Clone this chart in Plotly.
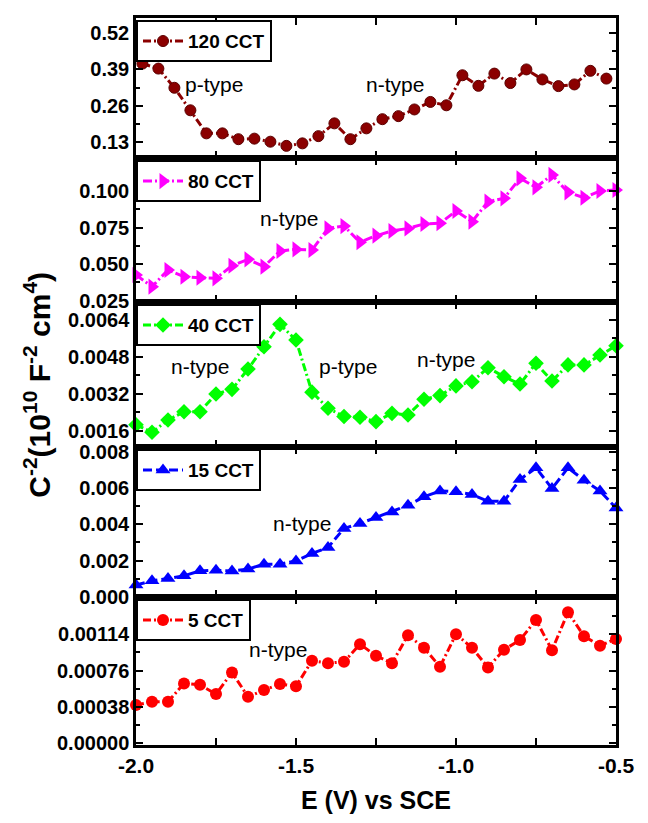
import plotly.graph_objects as go

# ---------------- data ----------------
x_120 = [-1.98, -1.93, -1.88, -1.83, -1.78, -1.73, -1.68, -1.63, -1.58, -1.53,
         -1.48, -1.43, -1.38, -1.33, -1.28, -1.23, -1.18, -1.13, -1.08, -1.03,
         -0.98, -0.93, -0.88, -0.83, -0.78, -0.73, -0.68, -0.63, -0.58, -0.53]
y_120 = [0.411, 0.393, 0.324, 0.243, 0.160, 0.160, 0.139, 0.141, 0.130, 0.115,
         0.124, 0.150, 0.196, 0.139, 0.178, 0.211, 0.222, 0.246, 0.273, 0.261,
         0.369, 0.331, 0.375, 0.341, 0.390, 0.354, 0.330, 0.336, 0.385, 0.357]

x_std = [-2.00, -1.95, -1.90, -1.85, -1.80, -1.75, -1.70, -1.65, -1.60, -1.55,
         -1.50, -1.45, -1.40, -1.35, -1.30, -1.25, -1.20, -1.15, -1.10, -1.05,
         -1.00, -0.95, -0.90, -0.85, -0.80, -0.75, -0.70, -0.65, -0.60, -0.55, -0.50]

y_80 = [0.0425, 0.0345, 0.0459, 0.0413, 0.0406, 0.0402, 0.0488, 0.0532, 0.0482, 0.0589,
        0.0600, 0.0596, 0.0744, 0.0760, 0.0649, 0.0694, 0.0726, 0.0744, 0.0774, 0.0779,
        0.0863, 0.0790, 0.0927, 0.0950, 0.1087, 0.1025, 0.1110, 0.0991, 0.0954, 0.1000, 0.1007]

y_40 = [0.00185, 0.00153, 0.00206, 0.00242, 0.00242, 0.00319, 0.00339, 0.00427, 0.00524, 0.00621,
        0.00553, 0.00327, 0.00257, 0.00221, 0.00218, 0.00199, 0.00235, 0.00228, 0.00296, 0.00312,
        0.00354, 0.00372, 0.00433, 0.00394, 0.00362, 0.00452, 0.00375, 0.00445, 0.00445, 0.00488, 0.00528]

y_15 = [0.000645, 0.00088, 0.00101, 0.00116, 0.00143, 0.00147, 0.00142, 0.00153, 0.00180, 0.00180,
        0.00198, 0.00239, 0.00272, 0.00377, 0.00404, 0.00437, 0.00468, 0.00505, 0.00551, 0.00584,
        0.00579, 0.00564, 0.00527, 0.00527, 0.00647, 0.00711, 0.00597, 0.00711, 0.00643, 0.00584, 0.00490]

y_5 = [0.000398, 0.000432, 0.000432, 0.000625, 0.000610, 0.000513, 0.000740, 0.000485, 0.000555, 0.000618,
       0.000594, 0.000862, 0.000837, 0.000851, 0.001036, 0.000914, 0.000837, 0.001130, 0.000998, 0.000799,
       0.001140, 0.000998, 0.000792, 0.000977, 0.001080, 0.001290, 0.000973, 0.001370, 0.001120, 0.001020, 0.001090]

series_names = ["120 CCT", "80 CCT", "40 CCT", "15 CCT", "5 CCT"]

ticks_120 = [0.13, 0.26, 0.39, 0.52]
ticks_80 = [0.025, 0.050, 0.075, 0.100]
ticks_40 = [0.0016, 0.0032, 0.0048, 0.0064]
ticks_15 = [0.000, 0.002, 0.004, 0.006, 0.008]
ticks_5 = [0.00000, 0.00038, 0.00076, 0.00114]
labels_120 = ["0.13", "0.26", "0.39", "0.52"]
labels_80 = ["0.025", "0.050", "0.075", "0.100"]
labels_40 = ["0.0016", "0.0032", "0.0048", "0.0064"]
labels_15 = ["0.000", "0.002", "0.004", "0.006", "0.008"]
labels_5 = ["0.00000", "0.00038", "0.00076", "0.00114"]

x_ticks = [-2.0, -1.5, -1.0, -0.5]
x_labels = ["-2.0", "-1.5", "-1.0", "-0.5"]

# ---------------- styling ----------------
FONT = "Liberation Sans, Arial, sans-serif"
domains = [(0.8074, 1.0), (0.6094, 0.8074), (0.4099, 0.6094), (0.2036, 0.4099), (0.0, 0.2036)]
yranges = [(0.0713, 0.575), (0.024, 0.1226), (0.00089, 0.00718), (-0.00001, 0.00826), (-0.00002, 0.00153)]
colors = ["#8B0000", "#FF00FF", "#00FF00", "#0000FF", "#FF0000"]
symbols = ["circle", "triangle-right", "diamond", "triangle-up", "circle"]
sizes = [11, 14, 12, 13, 12]
dashes = ["8px,3px,2px,3px", "9px,3px,2px,3px", "8px,3px,2px,3px", "9px,4px", "8px,3px,2px,3px"]
xs = [x_120, x_std, x_std, x_std, x_std]
ys = [y_120, y_80, y_40, y_15, y_5]
tvals = [ticks_120, ticks_80, ticks_40, ticks_15, ticks_5]
tlabs = [labels_120, labels_80, labels_40, labels_15, labels_5]

fig = go.Figure()
for i in range(5):
    ax = "" if i == 0 else str(i + 1)
    leg = "legend" if i == 0 else "legend" + str(i + 1)
    fig.add_trace(go.Scatter(
        x=xs[i], y=ys[i], mode="lines+markers",
        name="<b>" + series_names[i] + "</b>",
        xaxis="x" + ax, yaxis="y" + ax, legend=leg,
        line=dict(color=colors[i], width=3, dash=dashes[i]),
        marker=dict(symbol=symbols[i], size=sizes[i], color=colors[i],
                    line=dict(width=0 if i else 1, color="#5a0000")),
        cliponaxis=False,
    ))

layout = dict(
    width=648, height=823,
    margin=dict(l=136, r=32, t=18, b=78),
    paper_bgcolor="white", plot_bgcolor="white",
    font=dict(family=FONT, color="black"),
    showlegend=True,
)

for i in range(5):
    ax = "" if i == 0 else str(i + 1)
    tv = tvals[i]
    step = tv[1] - tv[0]
    minor_vals = [tv[0] - step / 2] + [v + step / 2 for v in tv]
    layout["xaxis" + ax] = dict(
        domain=[0, 1], anchor="y" + ax, range=[-2.0, -0.5],
        tickvals=x_ticks, ticktext=x_labels,
        showticklabels=(i == 4),
        ticks="inside", ticklen=7, tickwidth=2, tickcolor="black",
        minor=dict(tickvals=[-1.75, -1.25, -0.75], ticks="inside", ticklen=7, tickwidth=2, tickcolor="black"),
        showline=True, linewidth=2.5, linecolor="black", mirror="allticks",
        showgrid=False, zeroline=False,
        tickfont=dict(family=FONT, size=21, color="black", weight="bold"),
        matches=None if i == 0 else "x",
    )
    layout["yaxis" + ax] = dict(
        domain=list(domains[i]), anchor="x" + ax, range=list(yranges[i]),
        tickvals=tv, ticktext=tlabs[i],
        ticks="inside", ticklen=7, tickwidth=2, tickcolor="black",
        minor=dict(tickvals=minor_vals, ticks="inside", ticklen=4, tickwidth=2, tickcolor="black"),
        showline=True, linewidth=2.5, linecolor="black", mirror="allticks",
        showgrid=False, zeroline=False,
        tickfont=dict(family=FONT, size=20, color="black", weight="bold"),
    )
    layout["legend" if i == 0 else "legend" + str(i + 1)] = dict(
        x=0.0, y=domains[i][1] - 0.003, xanchor="left", yanchor="top",
        bgcolor="white", bordercolor="black", borderwidth=2,
        font=dict(family=FONT, size=19, color="black"),
        itemwidth=40, tracegroupgap=0,
    )

layout["xaxis5"]["title"] = dict(text="<b>E (V) vs SCE</b>", font=dict(family=FONT, size=25, color="black"), standoff=16)

fig.update_layout(**layout)

ann_font = dict(family=FONT, size=21, color="black")
notes = [
    ("x", "y", -1.756, 0.334, "p-type"),
    ("x", "y", -1.19, 0.334, "n-type"),
    ("x2", "y2", -1.522, 0.0815, "n-type"),
    ("x3", "y3", -1.80, 0.00436, "n-type"),
    ("x3", "y3", -1.3375, 0.00436, "p-type"),
    ("x3", "y3", -1.031, 0.00467, "n-type"),
    ("x4", "y4", -1.481, 0.00406, "n-type"),
    ("x5", "y5", -1.556, 0.00098, "n-type"),
]
for xr, yr, xv, yv, t in notes:
    fig.add_annotation(x=xv, y=yv, xref=xr, yref=yr, text=t, showarrow=False, font=ann_font)

fig.add_annotation(
    x=-0.205, y=0.495, xref="paper", yref="paper",
    text="<b>C<sup>-2</sup>(10<sup>10</sup> F<sup>-2</sup> cm<sup>4</sup>)</b>",
    textangle=-90, showarrow=False, xanchor="center", yanchor="middle",
    font=dict(family=FONT, size=30, color="black"),
)

fig.write_html("out.html")
